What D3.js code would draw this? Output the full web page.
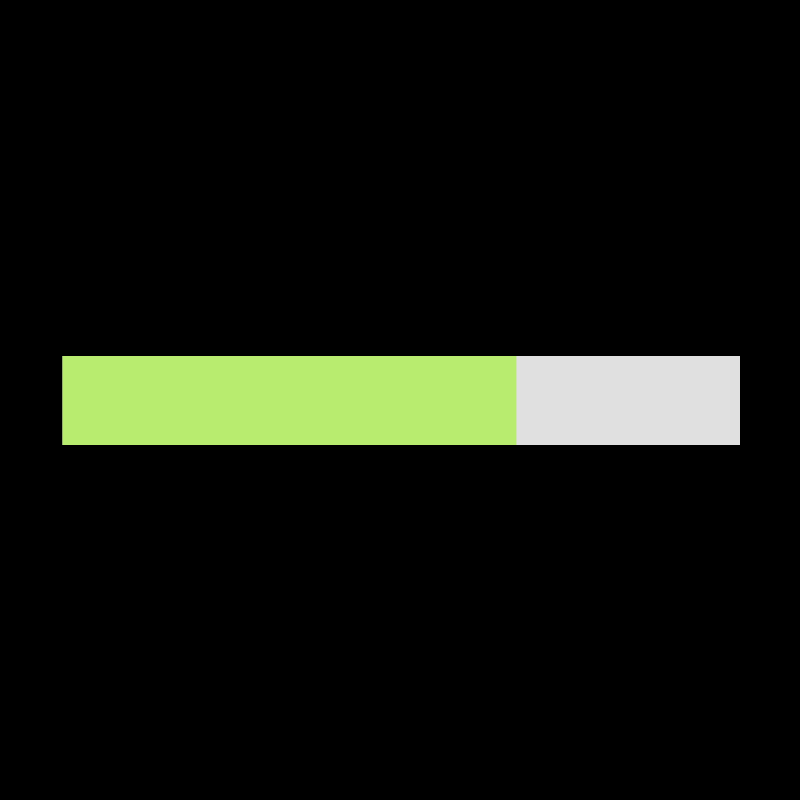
<!DOCTYPE html>
<html>
<head>
<meta charset="utf-8">
<script src="https://cdn.jsdelivr.net/npm/d3@7"></script>
<style>
html,body{margin:0;padding:0;background:#000;}
svg{display:block;}
</style>
</head>
<body>
<svg id="chart" width="800" height="800"></svg>
<script>
const categories = ["Progress"];
const progressValues = [67];
const totalValues = [100];

const svg = d3.select("#chart");
svg.append("rect").attr("width", 800).attr("height", 800).attr("fill", "#000");

const x = d3.scaleLinear().domain([0, totalValues[0]]).range([62.5, 740]);
const y = d3.scaleBand().domain(categories).range([356, 445]).padding(0);

const g = svg.append("g");
g.selectAll("rect.track").data(categories).join("rect")
  .attr("class", "track")
  .attr("x", x(0))
  .attr("y", d => y(d))
  .attr("width", (d, i) => x(totalValues[i]) - x(0))
  .attr("height", y.bandwidth())
  .attr("fill", "#e0e0e0");

g.selectAll("rect.bar").data(categories).join("rect")
  .attr("class", "bar")
  .attr("x", x(0))
  .attr("y", d => y(d))
  .attr("width", (d, i) => x(progressValues[i]) - x(0))
  .attr("height", y.bandwidth())
  .attr("fill", "#b8ec6f");
</script>
</body>
</html>
